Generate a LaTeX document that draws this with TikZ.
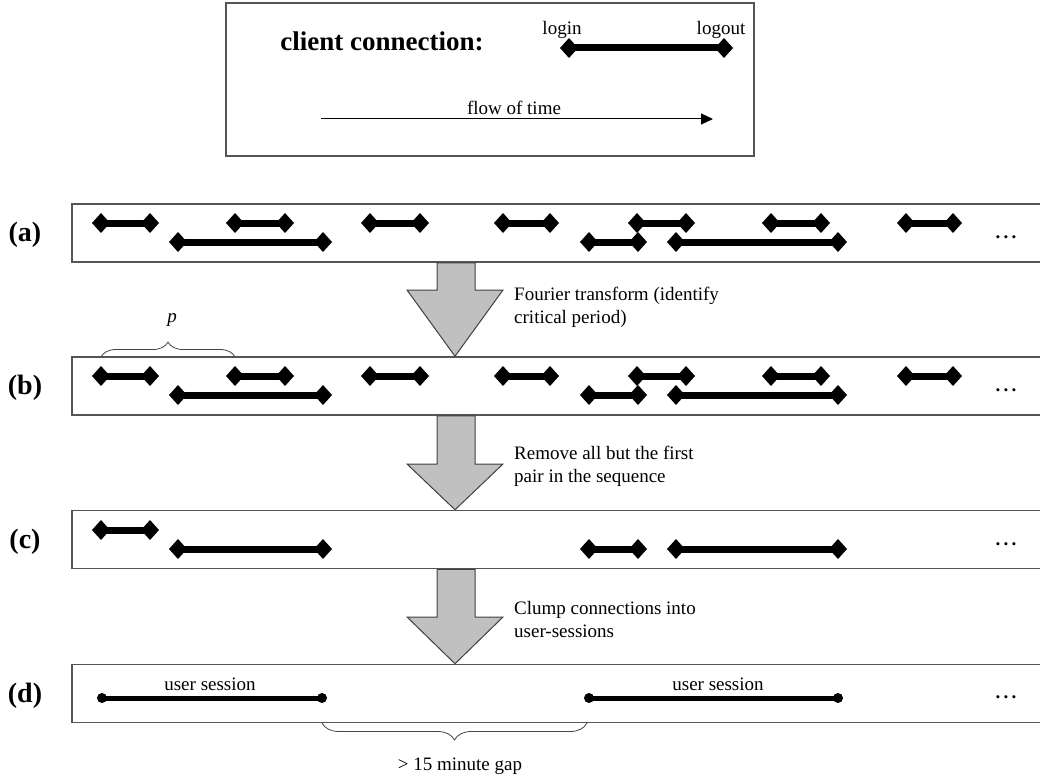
\documentclass[tikz,border=0pt]{standalone}
\usepackage{fontspec}
\setmainfont{Liberation Serif}
\usetikzlibrary{positioning, calc, arrows.meta, decorations.pathreplacing}
\definecolor{framegray}{HTML}{555555}
\definecolor{flowfill}{HTML}{C0C0C0}
\definecolor{flowedge}{HTML}{404040}
\definecolor{bracegray}{HTML}{444444}
\newcommand{\basefont}{\fontsize{19}{23}\selectfont}
\newcommand{\connbar}[3]{%
  \draw[conn] (#1,#3) -- (#2,#3);
  \fill (#1,#3) +(-9,0) -- +(0,-10) -- +(9,0) -- +(0,10) -- cycle;
  \fill (#2,#3) +(-9,0) -- +(0,-10) -- +(9,0) -- +(0,10) -- cycle;}
\newcommand{\flowstep}[3]{%
  \filldraw[flow] (437,0 |- #1.south) -- (437,#3) -- (407,#3) -- (455,0 |- #2.north)
    -- (503,#3) -- (475,#3) -- (475,0 |- #1.south) -- cycle;}

\begin{document}
\begin{tikzpicture}[x=1pt, y=-1pt, font=\basefont,
    rowbox/.style={draw=framegray, line width=1.5pt, fill=white, minimum width=970pt,
                   minimum height=58pt, inner sep=0pt},
    rowlabel/.style={font=\fontsize{28}{30}\selectfont\bfseries, anchor=base},
    txt/.style={anchor=base, inner sep=0pt},
    note/.style={anchor=west, align=left, inner sep=0pt},
    conn/.style={line width=7pt},
    session/.style={line width=5pt},
    flow/.style={fill=flowfill, draw=flowedge, line width=1pt, line join=miter},
    gap/.style={draw=bracegray, line width=0.8pt, decorate}]
  \useasboundingbox (0,0) rectangle (1040,778);

  \node[draw=framegray, line width=1.5pt, minimum width=528pt, minimum height=153pt,
        inner sep=0pt] (legend) at (490,79.5) {};
  \node[txt, font=\fontsize{27}{30}\selectfont\bfseries] (title) at (382,51) {client connection:};
  \connbar{569}{724}{48}
  \node[txt] (login) at (562,35) {login};
  \node[txt] (logout) at (721,35) {logout};
  \coordinate (timestart) at (321,119);
  \coordinate (timeend) at (713,119);
  \draw[-{Triangle[length=12pt,width=11pt]}, line width=1pt] (timestart) -- (timeend);
  \node[txt] (timelabel) at (514,115) {flow of time};

  \node[rowbox] (rowa) at (557,233) {};
  \node[rowbox] (rowb) at (557,386) {};
  \node[rowbox] (rowc) at (557,539.5) {};
  \node[rowbox] (rowd) at (557,693.5) {};

  \foreach \n/\y in {a/241, b/394, c/548, d/702}
    \node[rowlabel] (label\n) at (25,\y) {(\n)};

  \foreach \rowtop in {204, 357} {
    \foreach \a/\b in {101/150, 235/285, 370/420, 503/550, 637/686, 771/821, 906/953}
      {\connbar{\a}{\b}{\rowtop+19}}
    \foreach \a/\b in {178/323, 589/638, 676/838}
      {\connbar{\a}{\b}{\rowtop+38}}
  }
  \connbar{101}{150}{530}
  \foreach \a/\b in {178/323, 589/638, 676/838}
    {\connbar{\a}{\b}{549}}

  \foreach \a/\b/\m in {102/322/210, 589/838/718} {
    \draw[session] (\a,698) -- (\b,698);
    \fill (\a,698) circle (5);
    \fill (\b,698) circle (5);
    \node[txt] (session\m) at (\m,690) {user session};
  }

  \foreach \n/\rowtop in {a/204, b/357, c/511, d/664}
    \node[txt, font=\basefont\bfseries] (more\n) at (1006,\rowtop+34) {.\,.\,.};

  \flowstep{rowa}{rowb}{290}
  \flowstep{rowb}{rowc}{464}
  \flowstep{rowc}{rowd}{617}

  \node[note] (fourier) at (514,307) {Fourier transform (identify\\critical period)};
  \node[note] (remove) at (514,466) {Remove all but the first\\pair in the sequence};
  \node[note] (clump) at (514,619) {Clump connections into\\user-sessions};

  \coordinate (pstart) at (101,357);
  \coordinate (pend) at (235,357);
  \draw[gap, decoration={brace, amplitude=15pt}] (pstart) -- (pend);
  \node[txt, font=\basefont\itshape] (period) at (172,322) {p};

  \coordinate (gapstart) at (587,723);
  \coordinate (gapend) at (322,723);
  \draw[gap, decoration={brace, amplitude=17pt}] (gapstart) -- (gapend);
  \node[txt] (gaplabel) at (460,770) {> 15 minute gap};
\end{tikzpicture}
\end{document}
